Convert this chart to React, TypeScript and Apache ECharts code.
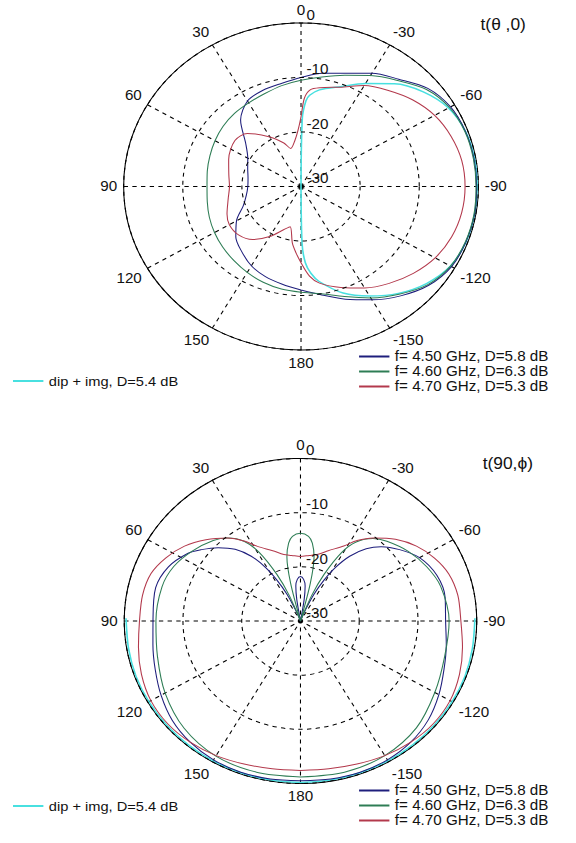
import React, { useEffect, useRef } from "react";
import * as echarts from "echarts";

// ---------- data: top plot t(theta,0) ----------
const THETA_10 = [-180, -170, -160, -150, -140, -130, -120, -110, -100, -90, -80, -70, -60, -50, -40, -30, -20, -10, 0, 10, 20, 30, 40, 50, 60, 70, 80, 90, 100, 110, 120, 130, 140, 150, 160, 170, 180];
const TOP_BLUE = [-11.0, -9.8, -8.0, -6.0, -3.8, -1.8, -0.6, -0.3, -0.2, -0.3, -0.3, -0.4, -0.8, -2.0, -4.3, -6.0, -7.9, -8.9, -10.0, -10.8, -11.2, -11.9, -14.1, -17.8, -19.6, -20.4, -20.9, -21.0, -20.6, -19.6, -17.4, -15.6, -14.4, -13.2, -12.4, -11.8, -11.0];
const TOP_GREEN = [-10.6, -10.0, -8.5, -6.4, -4.2, -2.0, -0.8, -0.4, -0.3, -0.4, -0.4, -0.5, -1.0, -2.3, -4.6, -6.5, -8.3, -9.6, -10.5, -11.2, -11.9, -12.3, -12.5, -12.8, -13.2, -13.6, -13.9, -14.1, -13.9, -13.5, -13.1, -12.7, -12.3, -11.8, -11.3, -10.9, -10.6];
const TOP_RED_ANG = [-180, -175, -170, -160, -150, -140, -130, -120, -110, -100, -90, -80, -70, -60, -50, -40, -30, -20, -10, -5, -2, 0, 3, 7, 14, 20, 30, 43, 53, 68, 80, 90, 100, 112, 120, 130, 140, 150, 160, 166, 172, 176, 180];
const TOP_RED = [-16.0, -13.5, -12.0, -10.3, -8.5, -6.8, -5.2, -3.8, -2.9, -2.4, -2.25, -2.4, -3.0, -3.9, -5.3, -7.0, -8.6, -10.6, -11.6, -12.2, -13.8, -17.2, -19.8, -21.5, -22.8, -21.5, -19.5, -16.7, -16.0, -16.8, -17.6, -17.9, -17.5, -16.5, -16.0, -16.2, -17.3, -19.4, -21.6, -22.4, -19.5, -17.8, -16.0];
const TOP_CYAN_ANG = [-180, -179, -177, -174, -170, -160, -150, -140, -130, -120, -110, -100, -90, -80, -70, -60, -50, -40, -30, -20, -10, -5, -3, -1, 0, 30, 60, 90, 120, 150, 180];
const TOP_CYAN = [-30, -19.5, -16.0, -14.0, -12.3, -9.2, -6.8, -4.4, -2.3, -0.8, -0.3, -0.2, -0.2, -0.2, -0.4, -1.2, -3.0, -5.4, -8.2, -10.5, -12.0, -13.2, -14.3, -17.5, -30, -30, -30, -30, -30, -30, -30];

// ---------- data: bottom plot t(90,phi) ----------
const BOT_BLUE_ANG = [-180, -170, -160, -150, -140, -130, -120, -110, -100, -90, -80, -70, -60, -52, -45, -40, -35, -31, -28, -25, -22, -18, -11, -9, -7, -4, 0, 4, 7, 9, 11, 18, 22, 25, 28, 31, 35, 40, 46, 52, 57, 66, 76, 90, 100, 110, 120, 130, 140, 150, 160, 170, 180];
const BOT_BLUE = [-0.5, -0.4, -0.3, -0.4, -0.8, -1.6, -2.8, -4.0, -4.8, -5.3, -5.0, -5.3, -6.6, -8.6, -10.6, -12.6, -15.4, -18.5, -21.4, -24.5, -28.0, -30, -30, -26.0, -23.5, -22.3, -21.8, -22.3, -23.5, -26.0, -30, -30, -28.0, -24.5, -21.4, -18.5, -15.4, -12.7, -10.5, -8.6, -7.1, -5.4, -4.6, -4.9, -4.5, -3.7, -2.6, -1.5, -0.8, -0.4, -0.3, -0.4, -0.5];
const BOT_GREEN_ANG = [-180, -165, -150, -135, -120, -105, -90, -75, -65, -55, -45, -39, -33, -29, -25, -22, -19, -15, -13.5, -11, -8, -5, 0, 5, 8, 11, 13.5, 15, 19, 22, 25, 29, 33, 39, 45, 55, 65, 75, 90, 105, 120, 135, 150, 165, 180];
const BOT_GREEN = [-1.2, -1.1, -1.3, -2.1, -3.6, -4.6, -4.7, -5.3, -6.3, -7.6, -9.2, -10.4, -12.6, -15.5, -20.5, -25.0, -30, -30, -22.8, -17.9, -15.5, -14.3, -13.8, -14.3, -15.5, -17.9, -22.8, -30, -30, -25.0, -20.5, -15.5, -12.5, -10.3, -9.0, -7.5, -6.2, -5.6, -5.4, -4.8, -3.4, -2.0, -1.2, -1.1, -1.2];
const BOT_RED_ANG = [-180, -170, -160, -150, -140, -130, -120, -110, -100, -90, -80, -71, -63, -55, -47, -39, -33, -28, -20, -13, -7, 0, 7, 13, 20, 28, 33, 39, 47, 55, 63, 71, 80, 90, 100, 110, 120, 130, 140, 150, 160, 170, 180];
const BOT_RED = [-2.4, -2.3, -1.9, -1.3, -0.8, -0.5, -0.6, -1.2, -2.0, -2.7, -2.8, -3.3, -4.4, -5.9, -7.9, -10.3, -12.3, -14.3, -16.2, -17.4, -17.8, -18.1, -17.8, -17.4, -16.2, -14.4, -12.4, -10.3, -8.0, -5.9, -4.3, -3.1, -2.7, -2.6, -2.0, -1.2, -0.6, -0.5, -0.8, -1.3, -1.9, -2.3, -2.4];
const BOT_CYAN_ANG = [89, 100, 110, 120, 130, 140, 150, 160, 170, 180, -170, -160, -150, -140, -130, -120, -110, -100, -89];
const BOT_CYAN = [-0.3, -0.3, -0.2, -0.2, -0.2, -0.2, -0.2, -0.2, -0.2, -0.2, -0.2, -0.2, -0.2, -0.2, -0.2, -0.2, -0.2, -0.3, -0.3];

// ---------- labels ----------
const NAME_DIP = "dip + img, D=5.4 dB";
const NAME_450 = "f= 4.50 GHz, D=5.8 dB";
const NAME_460 = "f= 4.60 GHz, D=6.3 dB";
const NAME_470 = "f= 4.70 GHz, D=5.3 dB";
const TITLE_TOP = "t(θ ,0)";
const TITLE_BOT = "t(90,ϕ)";

const C_BLUE = "#1e1e7c";
const C_GREEN = "#2e7d55";
const C_RED = "#b3394c";
const C_CYAN = "#48e0e0";

const FONT = "'Liberation Sans', Arial, sans-serif";
const CHART_W = 531;
const SX = 576 / CHART_W;

const toPairs = (ang: number[], val: number[]) =>
  ang.map((a, i) => [val[i], ((a % 360) + 360) % 360]);

const angleAxisCfg = (idx: number) => ({
  polarIndex: idx,
  type: "value",
  min: 0,
  max: 360,
  interval: 30,
  startAngle: 90,
  clockwise: false,
  axisLine: { show: true, lineStyle: { color: "#000", width: 1 } },
  axisTick: { show: false },
  axisLabel: {
    color: "#111",
    fontSize: 14,
    fontFamily: FONT,
    margin: 6,
    formatter: (v: number) => (v === 360 ? "" : String(v > 180 ? v - 360 : v)),
  },
  splitLine: { show: true, lineStyle: { color: "#000", width: 1, type: [4, 4] } },
});

const radiusAxisCfg = (idx: number) => ({
  polarIndex: idx,
  type: "value",
  min: -30,
  max: 0,
  interval: 10,
  axisLine: { show: false },
  axisTick: { show: false },
  axisLabel: {
    color: "#111",
    fontSize: 14,
    fontFamily: FONT,
    margin: -5,
    align: "left",
    verticalAlign: "bottom",
    padding: [0, 0, 1, 0],
  },
  splitLine: { show: true, lineStyle: { color: "#000", width: 1, type: [4, 4] } },
  z: 10,
});

const lineSeries = (name: string, idx: number, data: number[][], color: string, width = 1) => ({
  name,
  type: "line",
  coordinateSystem: "polar",
  polarIndex: idx,
  data,
  symbol: "none",
  smooth: 0.3,
  lineStyle: { color, width },
  itemStyle: { color },
  z: 5,
});

const legendCfg = (names: string[], left: number, top: number, fontSize: number) => ({
  data: names,
  orient: "vertical",
  left,
  top,
  padding: 0,
  itemWidth: 28,
  itemHeight: 15,
  itemGap: 1,
  selectedMode: false,
  itemStyle: { opacity: 0 },
  textStyle: { fontSize, fontFamily: FONT, color: "#111" },
});

const titleStyle = { fontSize: 16, fontWeight: "normal", fontFamily: FONT, color: "#111" };

const option = {
  animation: false,
  backgroundColor: "#fff",
  title: [
    { text: TITLE_TOP, left: 443, top: 17, padding: 0, textStyle: titleStyle },
    { text: TITLE_BOT, left: 445, top: 456, padding: 0, textStyle: titleStyle },
  ],
  polar: [
    { center: [277.5, 186.5], radius: 163.5 },
    { center: [277, 621], radius: 162.5 },
  ],
  angleAxis: [angleAxisCfg(0), angleAxisCfg(1)],
  radiusAxis: [radiusAxisCfg(0), radiusAxisCfg(1)],
  legend: [
    legendCfg([NAME_DIP], 11, 374, 13.5),
    legendCfg([NAME_450, NAME_460, NAME_470], 330, 349.5, 14),
    legendCfg([NAME_DIP], 11, 799, 13.5),
    legendCfg([NAME_450, NAME_460, NAME_470], 330, 783.5, 14),
  ],
  series: [
    lineSeries(NAME_DIP, 0, toPairs(TOP_CYAN_ANG, TOP_CYAN), C_CYAN, 1.5),
    lineSeries(NAME_450, 0, toPairs(THETA_10, TOP_BLUE), C_BLUE),
    lineSeries(NAME_460, 0, toPairs(THETA_10, TOP_GREEN), C_GREEN),
    lineSeries(NAME_470, 0, toPairs(TOP_RED_ANG, TOP_RED), C_RED),
    lineSeries(NAME_DIP, 1, toPairs(BOT_CYAN_ANG, BOT_CYAN), C_CYAN, 1.5),
    lineSeries(NAME_450, 1, toPairs(BOT_BLUE_ANG, BOT_BLUE), C_BLUE),
    lineSeries(NAME_460, 1, toPairs(BOT_GREEN_ANG, BOT_GREEN), C_GREEN),
    lineSeries(NAME_470, 1, toPairs(BOT_RED_ANG, BOT_RED), C_RED),
  ],
};

export default function App() {
  const ref = useRef<HTMLDivElement>(null);
  useEffect(() => {
    if (!ref.current) return;
    const chart = echarts.init(ref.current, null, { renderer: "svg" });
    chart.setOption(option as any);
    return () => chart.dispose();
  }, []);
  return (
    <div
      ref={ref}
      style={{
        position: "absolute",
        left: 0,
        top: 0,
        width: CHART_W,
        height: 843,
        transform: `scaleX(${SX})`,
        transformOrigin: "0 0",
        background: "#fff",
      }}
    />
  );
}
